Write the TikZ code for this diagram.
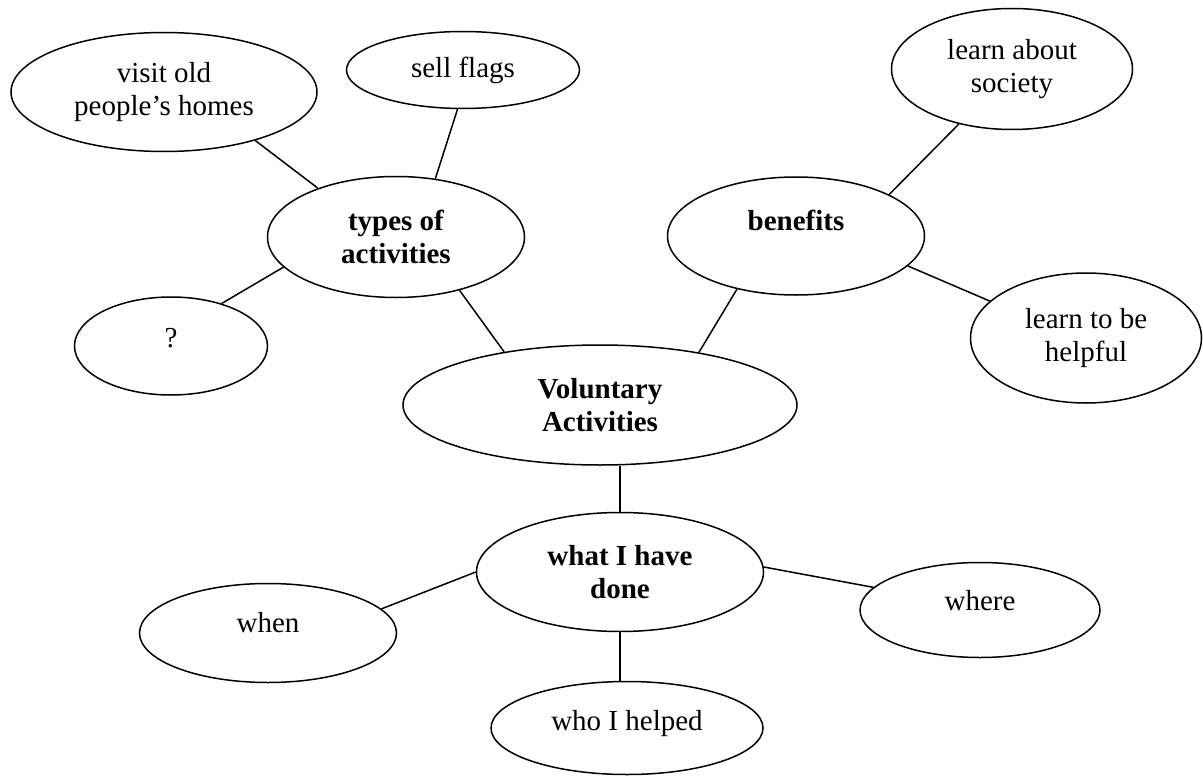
\documentclass[tikz,border=0pt]{standalone}
\usepackage{fontspec}
\setmainfont{Liberation Serif}
\usetikzlibrary{shapes.geometric}
\begin{document}
\begin{tikzpicture}[x=1pt,y=-1pt,
  bub/.style={draw,ellipse,line width=1.5pt,inner sep=0pt,align=center,
    font=\fontsize{29}{33.5}\selectfont},
  one/.style={text height=19.8pt,text depth=#1},
  link/.style={line width=1.5pt}]
\useasboundingbox (0,0) rectangle (1203,776);
\node[bub,minimum width=306,minimum height=119] (visit) at (164,92) {visit old\\people’s homes};
\node[bub,one=4pt,minimum width=233,minimum height=77] (flags) at (463,70) {sell flags};
\node[bub,minimum width=257,minimum height=121] (types) at (396,237) {\bfseries types of\\\bfseries activities};
\node[bub,one=17.8pt,minimum width=193,minimum height=98] (q) at (171,346) {?};
\node[bub,one=31.8pt,minimum width=257,minimum height=118] (ben) at (796,236) {\bfseries benefits};
\node[bub,minimum width=241,minimum height=121] (soc) at (1012,69) {learn about\\society};
\node[bub,minimum width=231,minimum height=130] (help) at (1086,338) {learn to be\\helpful};
\node[bub,minimum width=394,minimum height=120] (vol) at (600,405) {\bfseries Voluntary\\\bfseries Activities};
\node[bub,minimum width=287,minimum height=119] (done) at (620,572) {\bfseries what I have\\\bfseries done};
\node[bub,one=21.8pt,minimum width=257,minimum height=99] (when) at (268,633) {when};
\node[bub,one=19.8pt,minimum width=240,minimum height=95] (where) at (980,610) {where};
\node[bub,one=15.8pt,minimum width=272,minimum height=93] (who) at (627,728) {who I helped};
\draw[link] (visit.-28.6) -- (types.148.5);
\draw[link] (flags.262.7) -- (types.56.5);
\draw[link] (q.40.7) -- (types.195.6);
\draw[link] (types.-40.5) -- (vol.151.6);
\draw[link] (ben.222.5) -- (vol.28.9);
\draw[link] (soc.226.5) -- (ben.24.3);
\draw[link] (help.159) -- (ben.-15.7);
\draw[link] (done.north) -- (done.north |- vol.south);
\draw[link] (done.south) -- (done.south |- who.north);
\draw[link] (when.12.5) -- (done.180);
\draw[link] (where.168.5) -- (done.2);
\end{tikzpicture}
\end{document}
